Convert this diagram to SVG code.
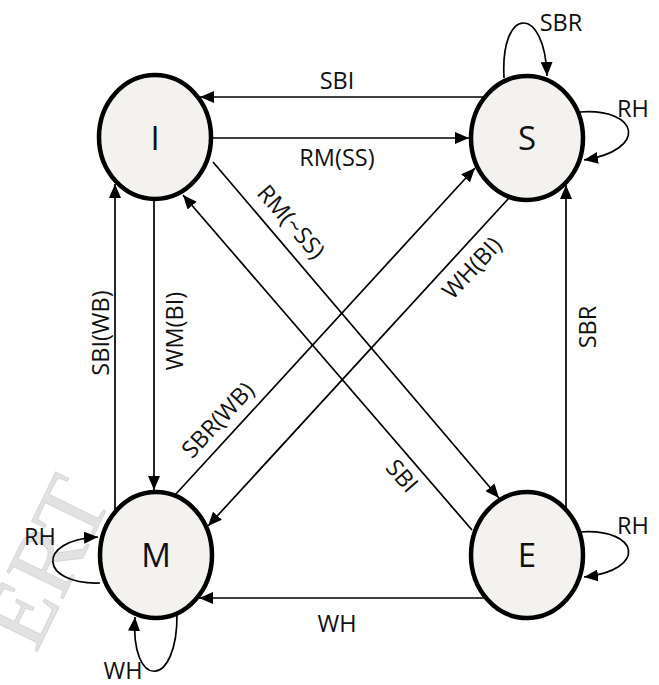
<svg xmlns="http://www.w3.org/2000/svg" width="659" height="685" viewBox="0 0 659 685">
<style>
.node ellipse{fill:#f3f2ef;stroke:#000;stroke-width:4.5}
.node text{font-family:"Open Sans","Liberation Sans",sans-serif;font-size:33px;fill:#111;text-anchor:middle}
.edge{fill:none;stroke:#000;stroke-width:1.7;marker-end:url(#arr)}
.lbl{font-family:"Open Sans","Liberation Sans",sans-serif;font-size:23.5px;fill:#111;text-anchor:middle}
.wm{font-family:"Liberation Serif","DejaVu Serif",serif;font-size:95px;fill:#cfcfcf;stroke:#bdbdbd;stroke-width:1;opacity:0.6}
</style>
<defs>
<marker id="arr" markerUnits="userSpaceOnUse" markerWidth="15" markerHeight="12" refX="14" refY="6" orient="auto">
<path d="M0,0 L14,6 L0,12 z" fill="#000"/>
</marker>
</defs>
<rect width="659" height="685" fill="#fff"/>
<text class="wm" transform="translate(36,654) rotate(-64)">ERT</text>
<g id="connectors">
<path class="edge" d="M485,97 L200,97"/>
<path class="edge" d="M212,138 L469,138"/>
<path class="edge" d="M213,162 L499,498"/>
<path class="edge" d="M472,530 L183,195"/>
<path class="edge" d="M509,198 L208,526"/>
<path class="edge" d="M175,495 L475,168"/>
<path class="edge" d="M154,200 L154,490"/>
<path class="edge" d="M115,510 L115,184"/>
<path class="edge" d="M566,510 L566,185"/>
<path class="edge" d="M486,598 L199,598"/>
<path class="edge" d="M504,78 C500,5 545,5 547,76"/>
<path class="edge" d="M580,112 C640,108 648,150 584,160"/>
<path class="edge" d="M580,532 C640,528 648,570 584,577"/>
<path class="edge" d="M100,583 C40,585 35,540 98,537"/>
<path class="edge" d="M177,613 C178,690 130,690 135,617"/>
<text class="lbl" x="337" y="89">SBI</text>
<text class="lbl" x="337" y="166">RM(SS)</text>
<text class="lbl" transform="translate(291,222) rotate(49)" y="8">RM(~SS)</text>
<text class="lbl" transform="translate(402,476) rotate(49)" y="8">SBI</text>
<text class="lbl" transform="translate(472,268) rotate(-47)" y="8">WH(BI)</text>
<text class="lbl" transform="translate(218,420) rotate(-47)" y="8">SBR(WB)</text>
<text class="lbl" transform="translate(175,331) rotate(-90)" y="8">WM(BI)</text>
<text class="lbl" transform="translate(101,333) rotate(-90)" y="8">SBI(WB)</text>
<text class="lbl" transform="translate(588,327) rotate(-90)" y="8">SBR</text>
<text class="lbl" x="337" y="632">WH</text>
<text class="lbl" x="561" y="31">SBR</text>
<text class="lbl" x="633" y="117">RH</text>
<text class="lbl" x="633" y="534">RH</text>
<text class="lbl" x="40" y="545">RH</text>
<text class="lbl" x="123" y="679">WH</text>
</g>
<g id="node-I" class="node"><ellipse cx="155" cy="137" rx="56" ry="62"/><text x="155" y="150">I</text></g>
<g id="node-S" class="node"><ellipse cx="527" cy="138" rx="56" ry="62"/><text x="527" y="150">S</text></g>
<g id="node-M" class="node"><ellipse cx="156" cy="555" rx="56" ry="63"/><text x="156" y="567">M</text></g>
<g id="node-E" class="node"><ellipse cx="527" cy="555" rx="56" ry="63"/><text x="527" y="567">E</text></g>
</svg>
